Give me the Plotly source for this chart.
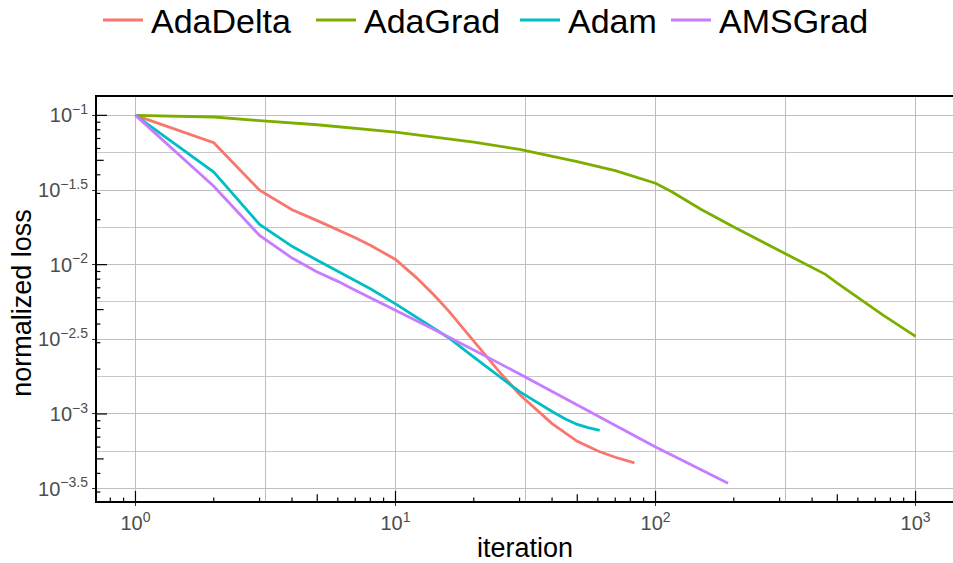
import plotly.graph_objects as go

# Normalized loss per optimizer over training iterations
adadelta_iter = [1, 2, 3, 4, 5, 6, 7, 8, 10, 12, 14, 16, 20, 25, 30, 40, 50, 60, 70, 83]
adadelta_loss = [0.1, 0.0656, 0.0315, 0.0233, 0.01972, 0.01718, 0.01514, 0.01349, 0.01084,
                 0.00822, 0.00631, 0.00490, 0.00309, 0.00193, 0.00135, 0.000861,
                 0.000655, 0.000565, 0.000513, 0.000471]

adagrad_iter = [1, 2, 3, 5, 10, 20, 30, 50, 70, 100, 115, 150, 200, 300, 375, 450, 500,
                560, 750, 1000]
adagrad_loss = [0.1, 0.0975, 0.0923, 0.0865, 0.0773, 0.0661, 0.0592, 0.0490, 0.0427,
                0.0351, 0.0309, 0.0234, 0.01786, 0.01247, 0.01012, 0.00861, 0.00752,
                0.00656, 0.00459, 0.00331]

adam_iter = [1, 2, 3, 4, 5, 6, 7, 8, 10, 12, 14, 16, 20, 25, 30, 40, 45, 50, 55, 61]
adam_loss = [0.1, 0.0417, 0.01862, 0.01327, 0.01069, 0.00899, 0.00785, 0.00690, 0.00546,
             0.00446, 0.00378, 0.00324, 0.00240, 0.00180, 0.00141, 0.00104, 0.000925,
             0.000851, 0.000809, 0.000776]

amsgrad_iter = [1, 2, 3, 4, 5, 6, 7, 8, 10, 12, 14, 16, 20, 25, 30, 40, 50, 60, 70, 100,
                130, 160, 190]
amsgrad_loss = [0.1, 0.0335, 0.01570, 0.01107, 0.00893, 0.00773, 0.00673, 0.00601, 0.00494,
                0.00422, 0.00370, 0.00328, 0.00269, 0.00219, 0.00185, 0.00141, 0.00115,
                0.000968, 0.000839, 0.000601, 0.000479, 0.000399, 0.000344]

series_names = ["AdaDelta", "AdaGrad", "Adam", "AMSGrad"]
series_colors = ["#F8766D", "#7CAE00", "#00BFC4", "#C77CFF"]

# Axis labels
x_tick_vals = [1, 10, 100, 1000]
x_tick_text = ["10<sup>0</sup>", "10<sup>1</sup>", "10<sup>2</sup>", "10<sup>3</sup>"]
y_tick_vals = [1e-1, 10 ** -1.5, 1e-2, 10 ** -2.5, 1e-3, 10 ** -3.5]
y_tick_text = ["10<sup>\u22121</sup>", "10<sup>\u22121.5</sup>", "10<sup>\u22122</sup>",
               "10<sup>\u22122.5</sup>", "10<sup>\u22123</sup>", "10<sup>\u22123.5</sup>"]

FONT = "Liberation Sans, Arial, Helvetica, sans-serif"
W, H = 953, 563
ML, MR, MT, MB = 97, 0, 97, 62
PW, PH = W - ML - MR, H - MT - MB


def px_to_paper_x(px):
    return (px - ML) / PW


def px_to_paper_y(py):
    return (H - MB - py) / PH


fig = go.Figure()
all_x = [adadelta_iter, adagrad_iter, adam_iter, amsgrad_iter]
all_y = [adadelta_loss, adagrad_loss, adam_loss, amsgrad_loss]
for name, color, xs, ys in zip(series_names, series_colors, all_x, all_y):
    fig.add_trace(go.Scatter(x=xs, y=ys, mode="lines", name=name, showlegend=False,
                             line=dict(color=color, width=2.8)))

# log10 axis ranges
x_range = [-0.148, 3.144]
y_range = [-3.583, -0.877]

# Log tick marks drawn inside the panel (decade / 5x / other)
LONG, MID, SHORT = 10, 6.7, 3.4
x_lo, x_hi = 10 ** x_range[0], 10 ** x_range[1]
y_lo, y_hi = 10 ** y_range[0], 10 ** y_range[1]
shapes = []
for exp in range(-1, 4):
    for m in range(1, 10):
        v = m * 10 ** exp
        if x_lo < v < x_hi:
            L = LONG if m == 1 else (MID if m == 5 else SHORT)
            shapes.append(dict(type="line", xref="x", yref="paper", ysizemode="pixel",
                               yanchor=0, x0=v, x1=v, y0=0, y1=L,
                               line=dict(color="black", width=1.2)))
for exp in range(-5, 0):
    for m in range(1, 10):
        v = m * 10 ** exp
        if y_lo < v < y_hi:
            L = LONG if m == 1 else (MID if m == 5 else SHORT)
            shapes.append(dict(type="line", xref="paper", yref="y", xsizemode="pixel",
                               xanchor=0, x0=0, x1=L, y0=v, y1=v,
                               line=dict(color="black", width=1.2)))

# Legend row across the top: key line start (px) per entry
legend_key_x = [103, 316, 520, 671]
legend_key_len = 40
legend_row_y = 20
annotations = []
for name, color, kx in zip(series_names, series_colors, legend_key_x):
    shapes.append(dict(type="line", xref="paper", yref="paper",
                       x0=px_to_paper_x(kx), x1=px_to_paper_x(kx + legend_key_len),
                       y0=px_to_paper_y(legend_row_y), y1=px_to_paper_y(legend_row_y),
                       line=dict(color=color, width=3)))
    annotations.append(dict(text=name, xref="paper", yref="paper",
                            x=px_to_paper_x(kx + legend_key_len + 6),
                            y=px_to_paper_y(legend_row_y + 1),
                            xanchor="left", yanchor="middle", showarrow=False,
                            font=dict(size=34, color="black")))

annotations += [
    dict(text="iteration", xref="paper", yref="paper", x=0.5, y=-0.117,
         xanchor="center", yanchor="middle", showarrow=False,
         font=dict(size=27, color="black")),
    dict(text="normalized loss", xref="paper", yref="paper", x=-0.088, y=0.49,
         xanchor="center", yanchor="middle", textangle=-90, showarrow=False,
         font=dict(size=27, color="black")),
]

fig.update_layout(
    width=W, height=H,
    margin=dict(l=ML, r=MR, t=MT, b=MB),
    plot_bgcolor="white", paper_bgcolor="white",
    font=dict(family=FONT, color="black"),
    shapes=shapes,
    showlegend=False,
    xaxis=dict(type="log", range=x_range, tickvals=x_tick_vals, ticktext=x_tick_text,
               tickfont=dict(size=20, color="#4D4D4D"),
               ticks="outside", ticklen=3, tickcolor="#333333",
               showgrid=True, gridcolor="#BEBEBE", gridwidth=1,
               minor=dict(tickvals=[10 ** 0.5, 10 ** 1.5, 10 ** 2.5], showgrid=True,
                          gridcolor="#BEBEBE", gridwidth=1, ticks=""),
               showline=True, linecolor="black", linewidth=2, mirror=True,
               zeroline=False),
    yaxis=dict(type="log", range=y_range, tickvals=y_tick_vals, ticktext=y_tick_text,
               tickfont=dict(size=20, color="#4D4D4D"),
               ticks="outside", ticklen=3, tickcolor="#333333",
               showgrid=True, gridcolor="#BEBEBE", gridwidth=1,
               minor=dict(tickvals=[10 ** -1.25, 10 ** -1.75, 10 ** -2.25, 10 ** -2.75,
                                    10 ** -3.25], showgrid=True,
                          gridcolor="#C8C8C8", gridwidth=1, ticks=""),
               showline=True, linecolor="black", linewidth=2, mirror=False,
               zeroline=False),
    annotations=annotations,
)

fig.write_html("out.html")
